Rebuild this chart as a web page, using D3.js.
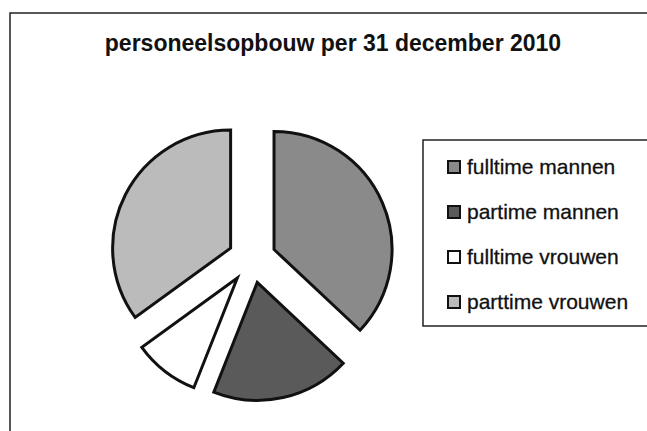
<!DOCTYPE html>
<html>
<head>
<meta charset="utf-8">
<script src="https://cdn.jsdelivr.net/npm/d3@7"></script>
<style>
  body { margin: 0; background: #fff; }
  text { font-family: "Liberation Sans", Arial, sans-serif; fill: #111; }
</style>
</head>
<body>
<div class="grafico"></div>
<script>
var width = 647, height = 431;

// data
var categorieen = ["fulltime mannen", "partime mannen", "fulltime vrouwen", "parttime vrouwen"];
var waarden = [37, 19, 9, 35];
var kleuren = ["#8a8a8a", "#5a5a5a", "#ffffff", "#bbbbbb"];
var titel = "personeelsopbouw per 31 december 2010";

var radius = 118, explode = 24;
var cx = 252, cy = 259;

var color = d3.scaleOrdinal().domain(categorieen).range(kleuren);

var svg = d3.select(".grafico").append("svg")
  .attr("width", width)
  .attr("height", height);

svg.append("rect")
  .attr("width", width)
  .attr("height", height)
  .attr("fill", "#fff");

// chart frame (runs off the right and bottom edge)
svg.append("rect")
  .attr("x", 10)
  .attr("y", 13)
  .attr("width", 700)
  .attr("height", 500)
  .attr("fill", "none")
  .attr("stroke", "#222")
  .attr("stroke-width", 1.5);

svg.append("text")
  .attr("x", 333)
  .attr("y", 51)
  .attr("text-anchor", "middle")
  .style("font-size", "23px")
  .style("font-weight", "bold")
  .text(titel);

var pie = d3.pie().sort(null).value(function (d) { return d; });
var arc = d3.arc().innerRadius(0).outerRadius(radius);

var slices = pie(waarden);

var g = svg.append("g")
  .attr("transform", "translate(" + cx + "," + cy + ")");

// exploded slices, pushed out along their middle angle
g.selectAll(".slice")
  .data(slices)
  .enter().append("path")
  .attr("class", "slice")
  .attr("d", arc)
  .attr("transform", function (d) {
    var a = (d.startAngle + d.endAngle) / 2;
    return "translate(" + (Math.sin(a) * explode) + "," + (-Math.cos(a) * explode) + ")";
  })
  .attr("fill", function (d, i) { return color(categorieen[i]); })
  .attr("stroke", "#111")
  .attr("stroke-width", 3)
  .attr("stroke-linejoin", "miter");

// legend
var legendTop = 140, legendLeft = 423, step = 45;

svg.append("rect")
  .attr("x", legendLeft)
  .attr("y", legendTop)
  .attr("width", 300)
  .attr("height", 186)
  .attr("fill", "#fff")
  .attr("stroke", "#222")
  .attr("stroke-width", 1.5);

var item = svg.append("g").selectAll(".item")
  .data(categorieen)
  .enter().append("g")
  .attr("class", "item")
  .attr("transform", function (d, i) {
    return "translate(" + legendLeft + "," + (legendTop + 27 + i * step) + ")";
  });

item.append("rect")
  .attr("x", 25)
  .attr("y", -6)
  .attr("width", 12)
  .attr("height", 12)
  .attr("fill", function (d) { return color(d); })
  .attr("stroke", "#111")
  .attr("stroke-width", 2);

item.append("text")
  .attr("x", 44)
  .attr("y", 0)
  .attr("dy", "0.35em")
  .style("font-size", "21px")
  .style("stroke", "#111")
  .style("stroke-width", 0.3)
  .text(function (d) { return d; });
</script>
</body>
</html>
